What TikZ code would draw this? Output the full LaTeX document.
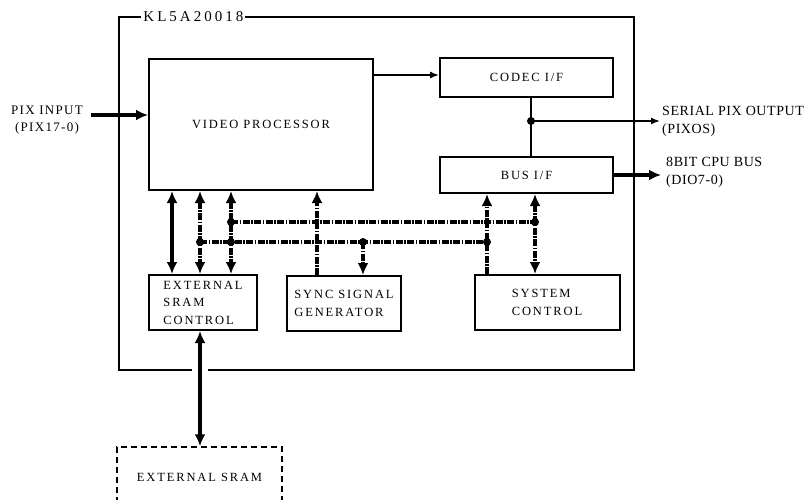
\documentclass[tikz,border=0pt]{standalone}
\usepackage{fontspec}
\setmainfont{Liberation Serif}
\newfontfamily\blockfont[LetterSpace=15]{Liberation Serif}
\newfontfamily\iofont[LetterSpace=4]{Liberation Serif}
\usetikzlibrary{arrows.meta, calc, positioning}

\begin{document}
\begin{tikzpicture}[x=1pt, y=-1pt, >=Latex,
  block/.style={draw, line width=2pt, inner sep=0pt,
    font=\blockfont\fontsize{12.5}{17.5}\selectfont},
  sigline/.style={line width=1.4pt, >={Latex[length=9pt,width=7pt]}},
  busline/.style={line width=3.4pt, >={Latex[length=12pt,width=11pt]}},
  dashbus/.style={busline, dash pattern=on 7pt off 1.5pt on 1.5pt off 1.5pt},
  iolabel/.style={align=left, anchor=west, inner sep=0pt,
    font=\iofont\fontsize{14}{18}\selectfont},
  junction/.style={circle, fill, inner sep=0pt, minimum size=8pt}]
  \useasboundingbox (0,0) rectangle (811,500);
  % chip outline
  \node[draw, line width=1.5pt, minimum width=515pt, minimum height=353pt] (chip) at (376.5,193.5) {};
  \node[fill=white, anchor=west, inner sep=2pt,
    font=\blockfont\addfontfeature{LetterSpace=20}\fontsize{15}{17}\selectfont]
    (chiplbl) at ($(chip.north west)+(23,0)$) {KL5A20018};
  % blocks
  \node[block, minimum width=224pt, minimum height=131pt] (vp) at (261,124.5) {VIDEO PROCESSOR};
  \node[block, minimum width=173pt, minimum height=39pt] (codec) at (526.5,77.5) {CODEC I/F};
  \node[block, minimum width=173pt, minimum height=36pt] (bus) at (526.5,175) {BUS I/F};
  \node[block, align=left, minimum width=108pt, minimum height=55pt] (sramc) at (203,302.5)
    {EXTERNAL\\SRAM\\CONTROL};
  \node[block, align=left, minimum width=114pt, minimum height=55pt] (sync) at (344,303.5)
    {SYNC SIGNAL\\GENERATOR};
  \node[block, align=left, minimum width=145pt, minimum height=55pt] (sys) at (547,302.5)
    {SYSTEM\\CONTROL};
  \node[block, line width=1.5pt, dash pattern=on 6pt off 4pt, minimum width=165pt, minimum height=60pt]
    (ext) at (199.5,477) {EXTERNAL SRAM};
  % outside labels
  \node[align=center, inner sep=0pt,
    font=\blockfont\addfontfeature{LetterSpace=10}\fontsize{13}{17}\selectfont]
    (pixlbl) at (47,120) {PIX INPUT\\(PIX17-0)};
  \node[iolabel] (serlbl) at (662,121) {SERIAL PIX OUTPUT\\(PIXOS)};
  \node[iolabel] (cpulbl) at (666,172) {8BIT CPU BUS\\(DIO7-0)};
  % end points
  \coordinate (pin) at (91,115);
  \coordinate (serout) at (660,121);
  \coordinate (cpuout) at (661,175);
  \coordinate (tap) at (531,121);
  \coordinate (c1) at (172,0);
  \coordinate (c2) at (200,0);
  \coordinate (c3) at (231,0);
  \coordinate (c4) at (317,0);
  \coordinate (c5) at (363,0);
  \coordinate (c6) at (487,0);
  \coordinate (c7) at (535,0);
  \coordinate (row1) at (0,222);
  \coordinate (row2) at (0,242);
  % pixel path
  \draw[busline, ->] (pin) -- (vp.west |- pin);
  \draw[sigline, ->] (vp.east |- 0,75) -- (codec.west |- 0,75);
  \draw[sigline] (codec.south -| tap) -- (bus.north -| tap);
  \draw[sigline, ->] (tap) -- (serout);
  \node[junction] at (tap) {};
  \draw[busline, ->] (bus.east |- cpuout) -- (cpuout);
  % internal buses
  \draw[dashbus] (c3 |- row1) -- (c7 |- row1);
  \draw[dashbus] (c2 |- row2) -- (c6 |- row2);
  \draw[busline, <->] (vp.south -| c1) -- (sramc.north -| c1);
  \draw[dashbus, <->] (vp.south -| c2) -- (sramc.north -| c2);
  \draw[dashbus, <->] (vp.south -| c3) -- (sramc.north -| c3);
  \draw[dashbus, ->] (sync.north -| c4) -- (vp.south -| c4);
  \draw[dashbus, ->] (c5 |- row2) -- (sync.north -| c5);
  \draw[dashbus, ->] (sys.north -| c6) -- (bus.south -| c6);
  \draw[dashbus, <->] (bus.south -| c7) -- (sys.north -| c7);
  \foreach \pt in {c3 |- row1, c7 |- row1, c2 |- row2, c3 |- row2, c5 |- row2, c6 |- row2}
    \node[junction] at (\pt) {};
  % memory link, through a gap in the chip outline
  \draw[white, line width=3pt] ($(chip.south -| c2)+(-8,0)$) -- ($(chip.south -| c2)+(8,0)$);
  \draw[busline, <->] (sramc.south -| c2) -- (ext.north -| c2);
\end{tikzpicture}
\end{document}
